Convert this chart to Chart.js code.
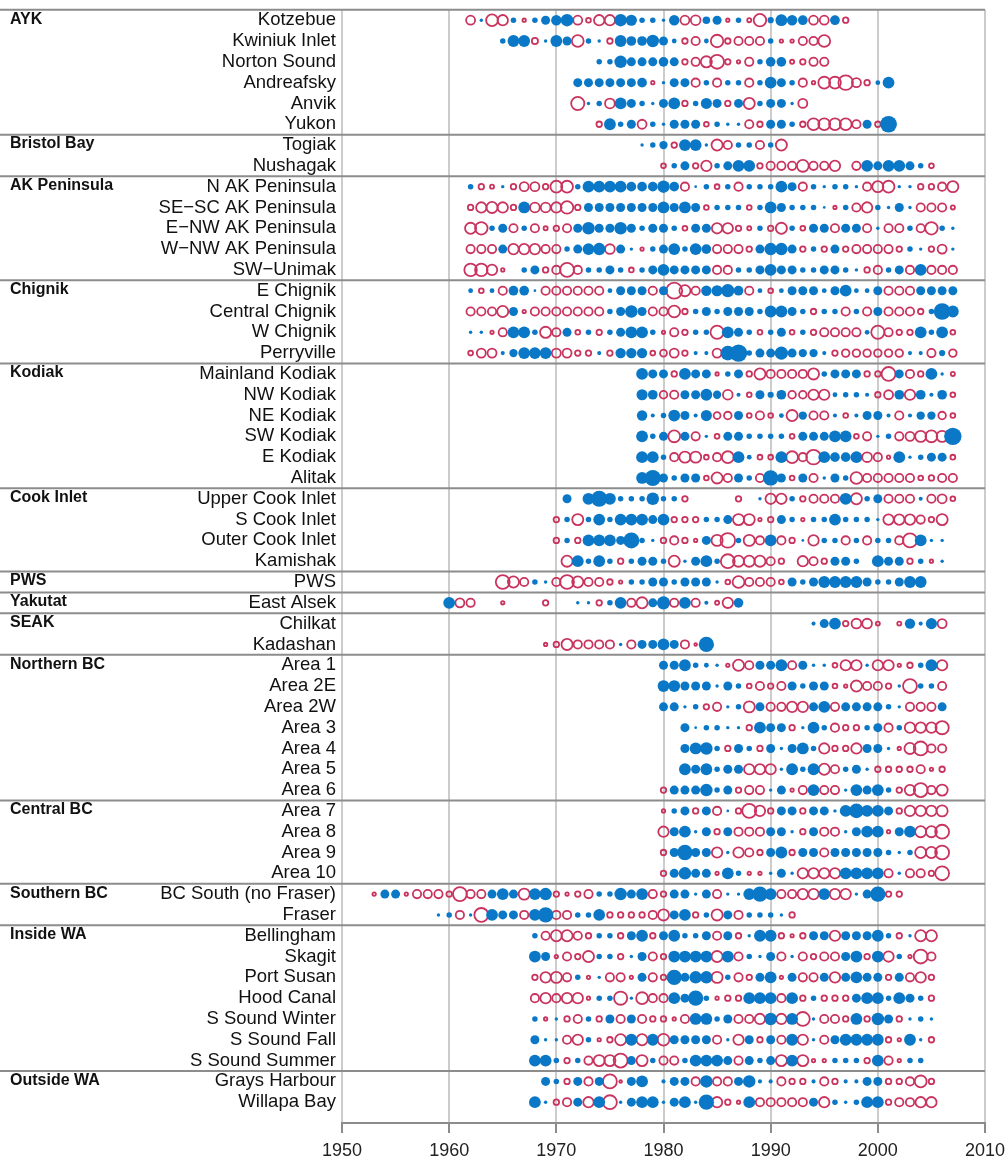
<!DOCTYPE html>
<html lang="en">
<head>
    <meta charset="UTF-8">
    <title>Stock anomalies by year</title>
    <script src="https://cdn.jsdelivr.net/npm/chart.js"></script>
    <style>
        body { margin: 0; background: #fff; }
        canvas { display: block; }
    </style>
</head>
<body>
    <canvas id="myChart" width="1008" height="1168"></canvas>
<script>
    // region names and how many stock rows belong to each
    const regionNames = ["AYK", "Bristol Bay", "AK Peninsula", "Chignik", "Kodiak", "Cook Inlet", "PWS", "Yakutat",
        "SEAK", "Northern BC", "Central BC", "Southern BC", "Inside WA", "Outside WA"];
    const regionSizes = [6, 2, 5, 4, 6, 4, 1, 1, 2, 7, 4, 2, 7, 2];

    const stockNames = ["Kotzebue", "Kwiniuk Inlet", "Norton Sound", "Andreafsky", "Anvik", "Yukon",
        "Togiak", "Nushagak",
        "N AK Peninsula", "SE\u2212SC AK Peninsula", "E\u2212NW AK Peninsula", "W\u2212NW AK Peninsula", "SW\u2212Unimak",
        "E Chignik", "Central Chignik", "W Chignik", "Perryville",
        "Mainland Kodiak", "NW Kodiak", "NE Kodiak", "SW Kodiak", "E Kodiak", "Alitak",
        "Upper Cook Inlet", "S Cook Inlet", "Outer Cook Inlet", "Kamishak",
        "PWS", "East Alsek", "Chilkat", "Kadashan",
        "Area 1", "Area 2E", "Area 2W", "Area 3", "Area 4", "Area 5", "Area 6",
        "Area 7", "Area 8", "Area 9", "Area 10",
        "BC South (no Fraser)", "Fraser",
        "Bellingham", "Skagit", "Port Susan", "Hood Canal", "S Sound Winter", "S Sound Fall", "S Sound Summer",
        "Grays Harbour", "Willapa Bay"];

    // first year of each row
    const firstYears = [1962, 1965, 1974, 1972, 1972, 1974,
        1978, 1980,
        1962, 1962, 1962, 1962, 1962,
        1962, 1962, 1962, 1962,
        1978, 1978, 1978, 1978, 1978, 1978,
        1971, 1970, 1970, 1971,
        1965, 1960, 1994, 1969,
        1980, 1980, 1980, 1982, 1982, 1982, 1980,
        1980, 1980, 1980, 1980,
        1953, 1959,
        1968, 1968, 1968, 1968, 1968, 1968, 1968,
        1969, 1968];

    // yearly anomalies (positive = filled, negative = open, null = no data)
    const kotzebue = [-1.0, 0.2, -1.4, -1.2, 0.5, -0.2, 0.5, 1.0, 1.2, 1.5, -1.0, -0.4, -1.2, -1.2, 1.5, 1.3, 0.5, 0.5, 0.2, 1.2,
        -1.0, -1.1, 0.8, 1.0, -0.2, 0.5, -0.3, -1.5, 0.6, 1.4, 1.2, 1.1, -1.0, -1.0, 1.1, -0.5];
    const kwiniuk = [0.5, 1.4, 1.4, -0.6, 0.2, 1.4, 1.0, -1.4, 0.5, 0.2, -0.5, 1.4, 1.1, 1.1, 1.5, 1.0, 0.4, -0.5, -0.9, 0.4,
        -1.5, -0.5, -0.9, -0.9, -0.9, 0.5, -0.2, -0.2, -0.9, -0.9, -1.4];
    const nortonSound = [0.5, 0.5, 1.5, 1.0, 1.0, 1.0, 1.1, 1.0, -0.5, -0.9, -1.3, -1.7, -0.5, -0.2, -0.9, 0.5, 1.1, 1.1, -0.3, -0.5,
        -0.9, -0.9];
    const andreafsky = [1.0, 1.0, 1.0, 1.0, 1.0, 1.0, 1.1, -0.2, 0.2, 1.0, 1.0, -0.9, 0.5, -0.9, 0.5, 0.5, -0.9, 0.5, 1.4, 1.0,
        0.5, -0.9, -0.2, -1.4, -1.4, -1.8, -1.0, -0.5, 0.4, 1.4];
    const anvik = [-1.6, 0.2, 0.5, -1.1, 1.4, 1.0, 0.5, 0.2, 1.0, 1.4, -0.5, 0.5, 1.3, 1.0, -0.5, 1.0, -1.3, 0.5, 1.0, 1.0,
        0.2, -1.0];
    const yukon = [-0.5, 1.4, 0.5, 1.0, -1.0, 0.5, 0.2, 1.0, 1.0, 1.0, -0.4, 0.5, 0.2, 0.2, -0.9, -0.5, 1.0, 1.0, 0.5, -0.5,
        -1.4, -1.4, -1.4, -1.4, -0.9, 1.0, -0.5, 2.1];
    const togiak = [0.2, 0.5, 0.9, -0.5, 1.4, 1.4, 0.2, -1.3, -0.9, 0.5, 0.5, -0.9, 0.5, -1.3];
    const nushagak = [-0.4, 0.5, 1.0, -0.5, -1.2, 0.5, 1.0, 1.4, 1.4, -0.5, -0.9, -0.9, -0.9, -1.4, -0.9, -0.9, -1.2, null, -0.9, 1.4,
        1.0, 1.4, 1.4, 1.0, 0.5, -0.4];
    const nAkPen = [0.5, -0.5, -0.3, 0.2, -0.5, -1.0, -1.0, -0.5, -1.4, -1.4, 0.5, 1.4, 1.4, 1.4, 1.4, 1.1, 1.1, 1.1, 1.5, 1.1,
        -0.9, 0.1, 0.5, -0.4, 0.5, -0.9, 0.5, 0.5, 0.5, 1.4, 1.0, -0.9, 0.5, 0.2, 0.5, 0.5, 0.2, -0.9, -1.3, -1.4,
        0.2, 0.2, -0.5, -0.5, -0.9, -1.3];
    const seScAkPen = [-0.5, -1.2, -1.3, -1.2, -0.5, 1.4, -1.1, -1.1, -1.2, -1.5, -0.5, 1.0, 1.0, 1.0, 1.0, 1.0, 1.0, 1.0, 1.4, 1.0,
        1.4, 1.0, -0.4, 0.5, 0.5, 0.5, -0.4, 0.5, 1.4, 1.0, 0.5, 0.5, 0.5, 0.1, -0.2, 0.5, -0.9, -1.2, 0.5, 0.2,
        1.0, 0.2, -0.9, -0.9, -0.9, -0.3];
    const eNwAkPen = [-1.3, -1.5, 0.5, 1.0, -0.9, 0.5, -0.9, -0.3, -0.5, -0.9, 1.0, 1.5, 1.0, 1.0, 1.5, 1.0, 0.5, 1.0, 1.0, 0.5,
        -0.4, 1.0, 1.0, -1.2, -1.2, -0.5, -0.3, 0.5, -0.5, -1.3, 0.5, -0.4, 1.0, 1.0, -0.9, 1.0, 1.0, -0.9, 0.2, -0.9,
        -0.9, 0.5, -0.9, -1.5, 0.5, 0.2];
    const wNwAkPen = [-0.9, -0.9, -0.9, 1.0, -1.2, -1.2, -1.2, -0.9, -0.9, 0.5, 1.0, 1.4, 1.5, -1.1, 1.0, 0.2, -0.2, 0.5, 1.0, 1.4,
        0.5, 1.4, 1.1, -0.9, -0.9, -0.9, -0.5, 1.0, 1.5, 1.5, 1.0, -0.5, 0.5, -0.5, 1.0, -0.5, -0.9, -0.9, -0.9, -0.9,
        -0.5, 0.5, 0.2, -0.5, -1.0, 0.2];
    const swUnimak = [-1.5, -1.5, -1.2, -0.2, null, 0.5, 1.0, -0.5, -0.9, -1.7, -0.9, 0.5, 0.5, 1.0, 0.5, -0.4, 0.5, 1.0, 1.4, 1.0,
        1.0, 1.0, 1.0, -0.9, -0.9, 0.5, 0.5, 1.0, 1.4, 1.0, 1.0, 0.5, 0.5, 1.0, 1.0, 0.5, 0.2, -0.5, -0.9, 0.5,
        1.0, -0.9, 1.4, -0.9, -0.9, -0.9];
    const eChignik = [0.4, -0.4, 0.4, -0.9, 1.1, 1.1, 0.1, -0.9, -0.9, -0.9, -0.9, -0.9, -0.9, 0.4, 1.0, 1.0, 1.0, -0.9, 1.0, -2.0,
        -1.3, -0.9, 1.2, 1.3, 1.6, 1.1, -0.9, 0.4, -0.4, 0.4, 1.0, 1.0, 1.0, 0.4, 1.0, 1.4, 0.4, 0.4, 1.0, -0.9,
        -0.9, -0.9, 1.0, 1.0, 1.0, 1.0];
    const centralChignik = [-0.9, -0.9, -0.9, -1.3, 1.0, -0.2, -0.9, -0.9, -0.9, -0.9, -0.9, -0.9, -0.9, 0.5, 1.0, 1.5, 1.0, -0.9, -0.9, -1.4,
        -0.5, 0.5, 1.0, 0.5, 1.0, 1.0, 1.0, 0.5, 1.4, 1.4, 1.0, 0.5, -0.5, 0.5, 0.5, -0.9, 0.5, -0.9, 1.0, -0.9,
        -0.9, -0.9, -0.5, 0.5, 2.1, 1.4];
    const wChignik = [0.2, 0.2, -0.2, -0.9, 1.4, 1.4, 0.5, -1.3, -0.9, 1.0, -0.4, 0.5, -0.5, 0.5, 1.0, 1.4, 1.4, 0.5, -0.2, -0.9,
        -0.5, 0.5, 0.5, -1.6, 1.4, 1.0, 0.5, -0.4, 0.5, 1.0, -0.4, 0.5, -0.5, -0.9, -0.9, -0.9, -0.9, 0.4, -1.6, -0.9,
        -0.5, -0.5, 1.4, 0.5, 1.4, -0.4];
    const perryville = [-0.4, -1.0, -1.0, 0.3, 0.9, 1.4, 1.4, 1.4, -1.0, -1.0, -0.5, -0.5, 0.3, -0.5, 1.2, 1.2, 1.2, -0.4, -0.7, -1.0,
        -0.5, 0.3, 0.3, -1.0, 1.8, 2.2, 0.5, 1.0, 1.0, 1.6, 1.0, 0.9, 0.9, 0.3, -0.5, -0.8, -0.8, -0.8, -0.8, -0.8,
        -0.8, 0.3, 0.3, -0.9, 0.6, -0.8];
    const mainlandKodiak = [1.4, 1.0, 1.0, -0.5, 1.4, 1.0, 1.0, -0.2, 0.5, 1.0, -0.5, -1.3, -0.9, -0.9, -0.9, -0.9, -1.3, 0.5, 1.0, 1.0,
        1.0, -0.5, -0.5, -1.7, 1.0, -0.9, -0.5, 1.4, 0.2, -0.3];
    const nwKodiak = [1.3, 1.1, -0.8, -0.9, 1.0, 1.0, 1.4, 0.9, -1.1, 0.3, -0.4, 1.0, 0.6, 1.1, -0.8, -0.8, -1.2, -1.2, 0.4, 0.5,
        0.5, 0.3, -0.5, -1.0, 1.1, -1.2, 1.1, 0.3, 1.1, -0.4];
    const neKodiak = [1.2, 0.3, 0.5, 1.4, 1.0, 0.3, 1.3, -0.7, -0.8, 1.0, -0.4, -0.9, -0.4, 0.4, -1.3, 0.9, -0.9, -0.9, 0.3, -0.4,
        0.3, 1.0, 1.0, 0.3, -0.9, 0.3, 0.9, 0.9, -0.8, -0.4];
    const swKodiak = [1.4, 0.5, 1.0, -1.4, 1.0, -0.9, 0.2, -0.4, 1.0, 1.0, 0.5, 0.5, 0.5, 0.5, -0.4, 1.0, 1.0, 1.0, 1.4, 1.4,
        -0.4, -0.9, 0.2, 0.5, -0.9, -1.0, -1.3, -1.4, -1.3, 2.2];
    const eKodiak = [1.4, 1.4, 0.5, -0.9, -1.3, -1.3, -0.4, -0.9, -1.4, 1.4, 0.4, -0.4, -0.4, 1.4, -1.4, -0.9, -1.8, 1.4, 1.1, 1.1,
        1.4, -1.1, -0.9, -0.2, 1.4, 0.2, 0.5, 1.0, 1.0, -0.4];
    const alitak = [1.4, 2.0, 1.0, 0.5, 1.0, 1.0, -0.4, -1.3, -0.9, 1.0, 0.5, -0.9, 1.9, 1.0, -0.4, 1.0, -0.9, 0.2, 1.0, 0.5,
        -1.4, -0.9, -0.9, -0.9, -0.9, -0.9, -0.4, -0.5, -0.9, -0.9];
    const upperCook = [1.0, null, 1.4, 2.0, 1.4, 0.5, 0.5, 0.5, 1.5, 0.5, 0.5, -0.5, null, null, null, null, -0.5, null, 0.2, -1.2,
        -1.2, 0.5, -0.5, -0.9, -0.9, -0.9, 1.4, -1.3, 0.5, 1.0, -0.9, -0.9, -0.9, 0.3, -0.9, -1.0, -0.4];
    const sCook = [-0.5, 0.5, -1.3, 0.5, 1.4, 0.5, 1.4, 1.4, 1.4, 1.0, 1.4, -0.5, -0.5, -0.5, 0.5, 0.5, 1.0, -1.3, -1.3, -0.2,
        -0.5, 1.0, 0.5, -0.2, 0.5, 0.5, 1.4, 0.5, 0.5, 0.5, 0.2, -1.2, -1.2, -1.2, -0.9, -0.5, -1.3];
    const outerCook = [-0.5, 0.5, -0.5, 1.4, 1.4, 1.4, 1.0, 2.0, 0.5, 0.2, -0.5, -0.9, -0.5, -0.2, 1.0, -1.3, -1.8, 0.5, -1.3, -0.9,
        1.4, -0.9, -0.5, 0.1, -1.2, 0.5, 0.5, -0.9, 0.5, -0.9, 0.5, 0.5, -0.9, -1.7, 1.4, 0.2, 0.2];
    const kamishak = [-1.3, 1.4, 0.5, 1.4, 0.5, -0.5, 0.5, 1.0, 1.0, 0.5, -1.3, 0.2, 1.0, 1.4, 0.5, -1.7, -1.3, -1.3, -1.3, -0.9,
        -0.5, null, -1.2, -0.9, -0.5, 1.0, 1.0, 0.5, null, 1.4, 1.0, 1.0, -0.5, 0.5, -0.2, 0.2];
    const pws = [-1.7, -1.3, -0.9, 0.5, 0.2, -0.9, -1.7, -1.3, -0.9, -0.9, -0.5, -0.2, 0.5, 0.5, 1.0, 1.0, 0.5, 1.0, 1.0, 1.0,
        0.2, -0.4, -1.4, -0.9, -0.9, -0.9, -0.4, 1.0, 0.5, 1.0, 1.4, 1.4, 1.4, 1.4, 1.0, 0.5, 0.5, 1.0, 1.4, 1.4];
    const eastAlsek = [1.4, -1.0, -0.9, null, null, -0.2, null, null, null, -0.5, null, null, 0.2, 0.2, -0.5, 0.5, 1.4, -0.9, -1.3, 1.0,
        1.6, -0.9, 1.4, -0.9, 0.3, -0.3, -1.2, 1.1];
    const chilkat = [0.3, 1.0, 1.4, -0.5, -1.1, -1.1, -0.3, null, -0.3, 1.2, 0.3, 1.3, -1.0];
    const kadashan = [-0.2, -0.5, -1.3, -0.9, -0.9, -0.9, -0.9, 0.2, -0.9, 1.0, 1.0, 1.4, 1.0, -0.9, -0.1, 1.9];
    const area1 = [1.0, 1.0, 1.4, 0.5, 0.4, 0.2, -0.2, -1.3, -0.9, 1.0, 1.0, 1.4, -0.9, 1.0, 0.2, 0.2, -0.4, -1.2, -1.2, 0.2,
        -1.2, -1.2, -0.2, -0.5, 0.5, 1.4, -1.2];
    const area2E = [1.4, 1.4, 1.0, 1.0, 1.0, 0.2, 1.0, 0.5, -0.4, -0.9, -0.5, -0.9, 1.0, 0.5, 1.0, 1.0, -0.4, -0.2, -1.3, -0.9,
        -0.9, -0.5, 0.2, -1.7, 0.5, 0.5, -0.9];
    const area2W = [1.0, 1.0, 0.2, 0.5, -0.5, -0.9, 0.2, 0.5, -1.3, 1.0, -0.9, -0.9, -1.2, -1.2, 1.0, 1.4, -0.9, 1.0, 1.0, 1.0,
        1.0, 0.5, 0.2, -0.9, -0.9, -0.9, 1.0];
    const area3 = [1.0, 0.1, 0.5, 0.5, 0.2, 0.2, -0.5, 1.4, 1.0, 1.0, -0.5, 0.2, 1.4, 0.5, -0.9, -0.5, -0.5, 0.5, 1.0, -0.9,
        0.5, -1.2, -1.2, -1.2, -1.6];
    const area4 = [1.0, 1.4, 1.5, 0.5, -0.5, 1.0, 0.5, -0.5, 1.0, 0.2, 1.0, 1.4, 0.5, -1.2, -0.5, -0.5, -1.2, 1.0, 1.0, 0.2,
        -0.2, -1.3, -1.7, -0.9, -0.9];
    const area5 = [1.4, 1.0, 1.4, 0.5, 1.0, 1.0, -1.2, -1.2, -1.2, 0.2, 1.4, 0.5, 1.4, -1.3, -0.9, 0.5, 1.0, 0.2, -0.5, -0.5,
        -0.5, -0.5, -0.9, -0.2, -0.5];
    const area6 = [-0.5, 1.0, 1.0, 1.0, 1.5, 0.5, 1.0, -0.5, -0.9, -0.9, 0.2, 1.0, -0.2, -0.9, 1.4, -0.9, -0.9, 0.2, 1.4, 1.0,
        1.4, 0.5, -0.5, -1.2, -1.7, -0.9, -1.3];
    const area7 = [-0.2, 0.5, 1.0, -0.5, 1.0, -0.9, 0.1, -0.5, -1.7, -1.2, -0.5, 1.0, 1.0, -0.5, 1.0, 1.0, 0.2, 1.4, 1.8, 1.4,
        1.4, 1.0, -0.5, -1.2, -1.2, -1.2, -1.3];
    const area8 = [-1.2, 1.0, 1.4, 0.2, 1.0, -0.5, 1.0, -0.9, -0.9, -0.9, 1.0, 1.0, 0.2, -0.5, 1.0, -0.9, -0.9, 0.2, 1.0, 1.4,
        1.4, -0.2, 1.0, 1.4, -1.3, -1.3, -1.7];
    const area9 = [-0.5, 1.0, 1.9, 1.0, 1.0, -1.2, 0.2, -1.2, -0.9, -0.5, 1.0, 1.4, -0.5, 1.0, 1.0, -0.9, 1.0, 1.0, 1.0, 1.0,
        1.0, 0.5, 0.2, 0.5, -1.3, -1.3, -1.7];
    const area10 = [-0.5, 1.0, 1.5, 1.0, 1.0, -0.2, 1.4, 0.5, -0.2, -0.2, 0.2, 1.0, 0.2, -1.2, -1.2, -1.2, -1.2, 1.4, 1.4, 1.4,
        1.4, -0.9, 0.2, -0.9, -0.9, -0.5, -1.7];
    const bcSouth = [-0.2, 1.0, 1.0, -0.2, -0.9, -0.9, -0.9, -0.5, -1.7, -0.9, -0.9, 1.0, 1.4, 1.0, -1.3, 1.4, 1.5, -0.5, -0.2, -0.5,
        -0.9, 0.5, 0.5, 1.5, 1.0, 1.4, -0.9, -0.5, 1.0, 1.0, 0.2, 1.0, -0.9, 0.2, 0.2, 1.4, 1.9, 1.4, -0.9, -0.9,
        -1.2, -1.2, 1.4, -1.2, -1.2, 0.2, 1.0, 1.9, -0.5, -0.5];
    const fraser = [0.2, 0.5, -0.9, 0.2, -1.7, 1.4, 1.0, 1.0, -0.9, 1.4, 1.9, -0.9, -0.9, 0.5, 0.5, 1.4, -0.5, -0.5, -0.5, -0.5,
        -0.9, -1.3, 1.0, 1.4, -0.5, 0.5, -1.3, 1.0, -0.9, 0.5, 0.5, 0.5, 0.2, -0.5];
    const bellingham = [0.5, -0.9, -1.3, -1.3, -0.9, -0.5, 0.5, 0.5, -0.5, 1.0, 1.4, -0.5, 1.0, 1.4, 0.5, 0.5, 1.0, -0.9, 1.0, -0.5,
        0.2, 1.4, 1.4, -0.5, -0.2, -0.5, 1.0, 1.0, -1.2, 1.0, 1.0, 1.0, 1.4, 0.5, -0.5, 0.2, -1.3, -1.3];
    const skagit = [1.4, 1.0, -0.2, -0.9, -0.5, -1.3, 0.5, 0.5, -0.5, 0.2, 1.0, -0.9, -0.5, 1.4, 1.4, 1.4, 1.4, -1.3, 1.4, -0.9,
        0.5, 0.2, 1.0, -0.9, 0.2, -0.9, -0.5, -0.9, -0.9, 1.0, 1.4, -0.5, 1.4, -1.2, 0.5, -0.2, -1.7, -0.9];
    const portSusan = [-0.5, -1.2, -1.3, -0.9, 0.5, -0.2, 0.2, -0.9, -0.9, -0.2, 1.0, -0.9, -0.5, 1.9, 1.0, 1.5, 1.5, -1.3, 0.5, -0.9,
        -0.5, 1.0, 1.4, -0.2, 1.0, -0.9, -0.9, 1.0, -1.2, 1.0, 1.4, 1.0, 1.0, -0.5, 1.0, -0.9, -1.2, -0.5];
    const hoodCanal = [-0.9, -1.2, -0.9, -1.2, -1.2, -0.2, 0.5, 0.5, -1.6, 0.2, -1.4, -0.9, -0.9, 1.4, 1.0, 1.9, 0.5, -0.2, -0.5, -0.5,
        1.4, 1.4, 1.4, -0.9, 1.4, -0.5, 0.5, -0.5, -0.5, -0.5, 1.0, 1.4, 1.4, 0.5, 1.4, 1.0, 0.5, -0.5];
    const sSoundWinter = [0.5, -0.2, 0.2, -0.5, -0.9, 0.5, -0.5, 1.0, -0.9, 1.0, -0.9, -0.5, -0.5, -0.2, -0.9, 1.4, 1.4, 0.5, 1.0, -0.9,
        -0.9, -1.2, 1.5, -1.2, 1.4, -1.7, 0.2, -0.9, -0.9, -0.5, 1.4, -0.5, 1.5, 1.0, -0.5, 0.2, 0.5, 0.2];
    const sSoundFall = [1.0, 0.2, 0.2, -0.9, -1.2, 0.5, -0.2, -0.5, -1.3, 1.4, -1.3, 1.4, -1.4, 1.0, 1.0, 1.0, 1.0, -0.9, 0.2, -1.2,
        1.0, -0.5, 1.0, -0.9, 1.4, -1.2, 0.2, -0.9, 1.0, 1.4, 1.4, 1.4, 1.4, -0.5, -0.2, 1.4, 0.2, -0.5];
    const sSoundSummer = [1.4, 1.4, 0.5, -0.5, 0.5, -0.9, -1.3, -1.3, -1.7, 1.0, -1.3, 0.5, -0.9, -0.9, 0.5, 1.4, 1.4, 1.4, 1.0, -0.9,
        1.0, 0.5, 1.0, -1.3, 1.4, -1.3, -0.2, -0.2, 0.5, 0.5, 0.5, -0.5, 1.4, -0.9, -0.2, 0.5, 0.5];
    const graysHarbour = [1.0, 0.5, -0.5, 1.0, -0.9, 1.0, -1.7, -0.1, 1.0, 1.4, null, 0.3, 1.0, 1.0, -0.9, 1.5, -0.9, -0.9, 1.0, 1.5,
        0.3, 0.3, -0.9, -0.5, -0.5, 0.3, -0.9, -0.5, 0.3, 0.3, 1.0, 1.0, -0.5, -0.5, -0.9, -1.4, -0.5];
    const willapaBay = [1.4, 0.2, -0.5, -0.9, 1.0, -1.2, 1.4, -1.7, 0.2, 1.0, 1.4, 1.4, 0.2, 1.0, 1.4, 0.2, 1.9, -1.2, -0.5, -0.2,
        1.4, -0.9, -0.9, -0.9, -0.9, -0.9, 1.0, -1.2, 0.5, 0.2, 0.5, 1.4, 1.4, -0.5, -0.9, -0.9, -1.2, -1.2];

    const stockValues = [kotzebue, kwiniuk, nortonSound, andreafsky, anvik, yukon,
        togiak, nushagak,
        nAkPen, seScAkPen, eNwAkPen, wNwAkPen, swUnimak,
        eChignik, centralChignik, wChignik, perryville,
        mainlandKodiak, nwKodiak, neKodiak, swKodiak, eKodiak, alitak,
        upperCook, sCook, outerCook, kamishak,
        pws, eastAlsek, chilkat, kadashan,
        area1, area2E, area2W, area3, area4, area5, area6,
        area7, area8, area9, area10,
        bcSouth, fraser,
        bellingham, skagit, portSusan, hoodCanal, sSoundWinter, sSoundFall, sSoundSummer,
        graysHarbour, willapaBay];

    const xTicks = [1950, 1960, 1970, 1980, 1990, 2000, 2010];

    const BLUE = '#0a78c6';
    const RED = '#c9345f';
    const FONT = "'Liberation Sans', Arial, sans-serif";

    function radius(v) {
        return 1 + 3.5 * Math.abs(v);
    }

    // split values into filled (above) and open (below) points
    var above = [];
    var below = [];
    stockValues.forEach((vals, row) => {
        vals.forEach((v, k) => {
            if (v === null) return;
            const pt = { x: firstYears[row] + k, y: row, r: radius(v) };
            if (v >= 0) above.push(pt); else below.push(pt);
        });
    });

    // region separators and bold region names
    const regionPlugin = {
        id: 'regions',
        beforeDatasetsDraw(chart) {
            const ctx = chart.ctx;
            const yScale = chart.scales.y;
            const area = chart.chartArea;
            ctx.save();
            ctx.strokeStyle = '#8c8c8c';
            ctx.lineWidth = 2;
            ctx.fillStyle = '#111';
            ctx.font = 'bold 16px ' + FONT;
            ctx.textAlign = 'left';
            ctx.textBaseline = 'middle';
            let row = 0;
            regionNames.forEach((name, g) => {
                const yy = yScale.getPixelForValue(row - 0.5);
                ctx.beginPath();
                ctx.moveTo(0, yy);
                ctx.lineTo(area.right, yy);
                ctx.stroke();
                ctx.fillText(name, 10, yScale.getPixelForValue(row) - 1);
                row += regionSizes[g];
            });
            ctx.restore();
        }
    };

    var ctx = document.getElementById('myChart').getContext('2d');
    var myChart = new Chart(ctx, {
        type: 'bubble',
        data: {
            datasets: [{
                label: 'above',
                data: above,
                backgroundColor: BLUE,
                borderColor: BLUE,
                borderWidth: 0
            }, {
                label: 'below',
                data: below,
                backgroundColor: 'rgba(0,0,0,0)',
                borderColor: RED,
                borderWidth: 1.8
            }]
        },
        options: {
            responsive: false,
            animation: false,
            events: [],
            devicePixelRatio: 1,
            layout: { padding: { top: 7, right: 23, left: 0, bottom: 0 } },
            plugins: {
                legend: { display: false },
                tooltip: { enabled: false }
            },
            scales: {
                x: {
                    type: 'linear',
                    min: 1950,
                    max: 2010,
                    afterBuildTicks: axis => { axis.ticks = xTicks.map(v => ({ value: v })); },
                    afterFit: axis => { axis.height = 45; axis.paddingLeft = 0; axis.paddingRight = 0; },
                    grid: {
                        color: '#cccccc',
                        lineWidth: 2,
                        tickColor: '#8c8c8c',
                        tickWidth: 2,
                        tickLength: 10
                    },
                    border: { color: '#8c8c8c', width: 2 },
                    ticks: {
                        color: '#222',
                        padding: 7,
                        maxRotation: 0,
                        font: { family: FONT, size: 18 },
                        callback: v => String(v)
                    }
                },
                y: {
                    type: 'linear',
                    reverse: true,
                    min: -0.5,
                    max: 53,
                    afterBuildTicks: axis => { axis.ticks = stockNames.map((_, i) => ({ value: i })); },
                    afterFit: axis => { axis.width = 342; axis.paddingTop = 0; axis.paddingBottom = 0; },
                    grid: { display: false, drawTicks: false },
                    border: { display: false },
                    ticks: {
                        color: '#111',
                        padding: 6,
                        autoSkip: false,
                        font: { family: FONT, size: 18.5 },
                        callback: v => stockNames[v]
                    }
                }
            }
        },
        plugins: [regionPlugin]
    });
</script>
</body>
</html>
